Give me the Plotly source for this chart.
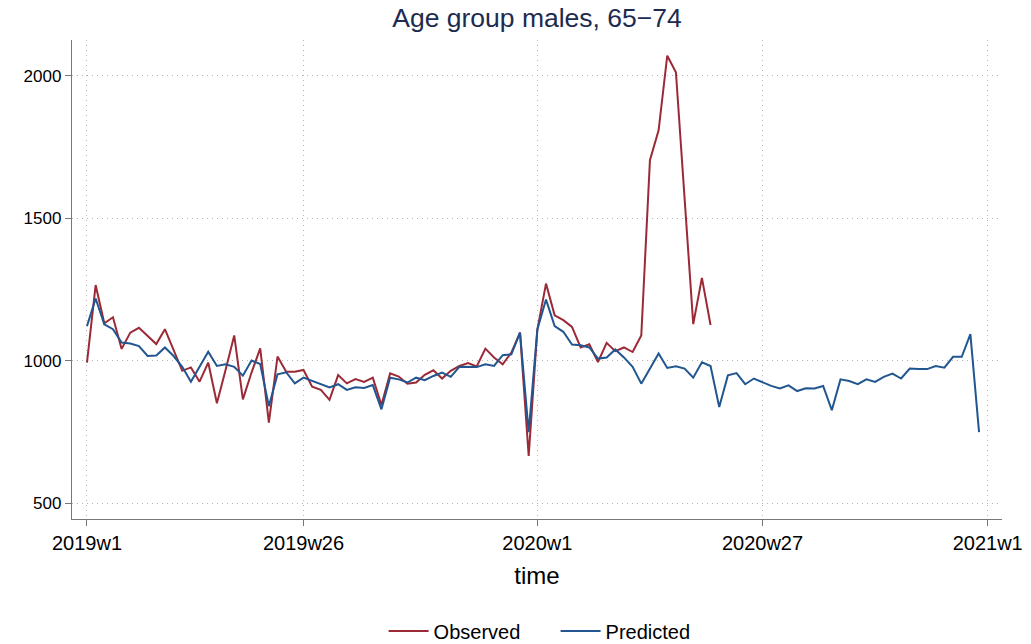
import plotly.graph_objects as go

week_index = list(range(104))

observed = [993, 1265, 1131, 1152, 1041, 1098, 1115, 1086, 1058, 1110,
            1035, 964, 976, 926, 993, 850, 967, 1088, 864, 958,
            1043, 782, 1014, 961, 961, 967, 908, 897, 862, 949,
            920, 935, 925, 940, 844, 955, 944, 919, 923, 950,
            966, 937, 964, 981, 991, 979, 1042, 1011, 987, 1028,
            1098, 665, 1109, 1270, 1159, 1142, 1118, 1046, 1057, 995,
            1062, 1033, 1046, 1030, 1088, 1703, 1808, 2070, 2012, 1560,
            1128, 1290, 1125]

predicted = [1121, 1218, 1127, 1110, 1063, 1060, 1051, 1016, 1018, 1046,
             1016, 978, 926, 976, 1031, 981, 987, 978, 947, 1000,
             988, 840, 952, 959, 920, 940, 929, 917, 906, 917,
             897, 906, 904, 914, 829, 940, 934, 923, 940, 931,
             946, 958, 943, 978, 977, 977, 987, 981, 1019, 1022,
             1098, 749, 1109, 1214, 1121, 1101, 1056, 1054, 1046, 1007,
             1011, 1039, 1011, 978, 919, 972, 1025, 974, 980, 972,
             940, 994, 981, 837, 948, 956, 917, 937, 925, 911,
             902, 913, 893, 903, 902, 911, 826, 934, 928, 917,
             934, 925, 943, 954, 937, 972, 970, 970, 981, 975,
             1013, 1013, 1093, 749]

x_tick_vals = [0, 25, 52, 78, 104]
x_tick_text = ["2019w1", "2019w26", "2020w1", "2020w27", "2021w1"]
y_tick_vals = [500, 1000, 1500, 2000]

RED = "#9c2a36"
BLUE = "#215690"
FONT = "Liberation Sans, Arial, sans-serif"
GRID = "#b4b4b4"

fig = go.Figure()
fig.add_trace(go.Scatter(x=week_index[:len(observed)], y=observed, mode="lines",
                         name="Observed", line=dict(color=RED, width=2)))
fig.add_trace(go.Scatter(x=week_index, y=predicted, mode="lines",
                         name="Predicted", line=dict(color=BLUE, width=2)))

fig.update_layout(
    width=1031, height=644,
    paper_bgcolor="white", plot_bgcolor="white",
    margin=dict(l=72, r=29, t=40, b=125, autoexpand=False),
    font=dict(family=FONT, size=17, color="#000000"),
    title=dict(text="Age group males, 65\u221274", x=0.5, xanchor="center",
               xref="paper", y=0.972, yanchor="middle",
               font=dict(size=26.5, color="#1c2b4f", family=FONT)),
    showlegend=True,
    legend=dict(orientation="h", x=0.52, xanchor="center", y=-0.234, yanchor="middle",
                font=dict(size=20), itemwidth=40, tracegroupgap=0,
                entrywidth=117, entrywidthmode="pixels"),
)

fig.update_xaxes(
    range=[-1.73, 105.65], automargin=False,
    tickmode="array", tickvals=x_tick_vals, ticktext=x_tick_text,
    showline=True, linecolor="#777777", linewidth=1.3,
    ticks="outside", ticklen=6, tickcolor="#777777", tickwidth=1.2,
    showgrid=True, gridcolor=GRID, griddash="1px,4px", gridwidth=1,
    zeroline=False, tickfont=dict(size=20),
    title=dict(text="time", font=dict(size=24), standoff=14),
)
fig.update_yaxes(
    range=[444, 2125], automargin=False,
    tickmode="array", tickvals=y_tick_vals,
    showline=True, linecolor="#777777", linewidth=1.3,
    ticks="outside", ticklen=6, tickcolor="#777777", tickwidth=1.2,
    showgrid=True, gridcolor=GRID, griddash="1px,4px", gridwidth=1,
    zeroline=False, tickfont=dict(size=17),
)

fig.write_html(
    "out.html",
    config={"displayModeBar": False},
    post_script="document.body.style.margin='0';document.body.style.overflow='hidden';",
)
